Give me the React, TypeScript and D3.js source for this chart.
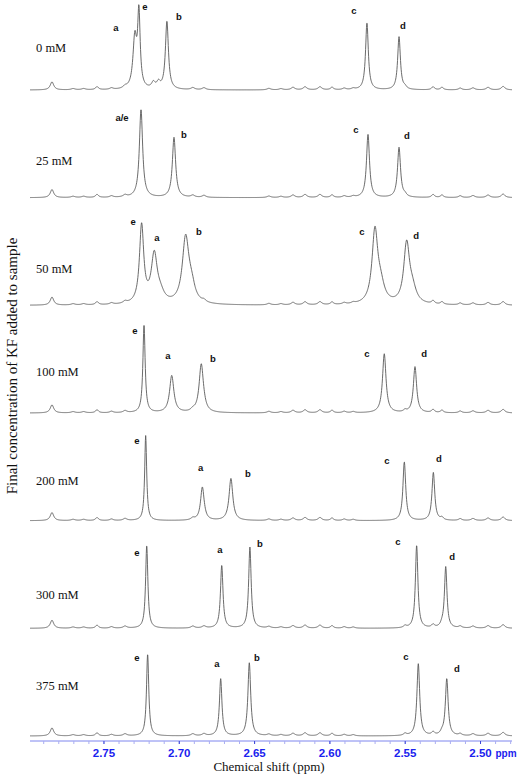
import React from "react";
import * as d3 from "d3";

// concentration of KF for each stacked spectrum (top to bottom)
const CONCENTRATIONS = ["0 mM", "25 mM", "50 mM", "100 mM", "200 mM", "300 mM", "375 mM"];

// main peaks per spectrum: [ppm, height, half-width (ppm)]
const PEAKS_0 = [
  [2.7268, 73, 0.001], [2.7295, 50, 0.0015], [2.7082, 68, 0.0012],
  [2.7172, 6, 0.0014], [2.7138, 6, 0.0014],
  [2.5754, 67, 0.0011], [2.5541, 53, 0.0011],
];
const PEAKS_25 = [
  [2.7254, 88, 0.0013], [2.7035, 60, 0.0013],
  [2.5747, 63, 0.0012], [2.5541, 50, 0.0012],
];
const PEAKS_50 = [
  [2.725, 78, 0.0017], [2.7166, 48, 0.0024], [2.7125, 8, 0.003],
  [2.6958, 64, 0.0026], [2.6922, 14, 0.003],
  [2.5701, 72, 0.0023], [2.5663, 16, 0.003],
  [2.549, 58, 0.0023], [2.5452, 13, 0.003],
];
const PEAKS_100 = [
  [2.7234, 88, 0.0009], [2.705, 37, 0.0017], [2.6854, 48, 0.0017],
  [2.5639, 59, 0.0014], [2.5435, 46, 0.0013],
];
const PEAKS_200 = [
  [2.7223, 85, 0.0008], [2.6847, 32, 0.0014], [2.6657, 42, 0.0015],
  [2.5506, 57, 0.0011], [2.5313, 45, 0.0011],
];
const PEAKS_300 = [
  [2.7216, 83, 0.0009], [2.6718, 63, 0.001], [2.6531, 81, 0.001],
  [2.5424, 83, 0.001], [2.5231, 61, 0.001],
];
const PEAKS_375 = [
  [2.721, 82, 0.0009], [2.6725, 57, 0.001], [2.6535, 73, 0.0011],
  [2.5413, 72, 0.0011], [2.5224, 57, 0.0011],
];
const PEAK_SETS = [PEAKS_0, PEAKS_25, PEAKS_50, PEAKS_100, PEAKS_200, PEAKS_300, PEAKS_375];

// small baseline features seen in every trace: [ppm, height, half-width]
const MINOR_PEAKS = [
  [2.7845, 8, 0.0014], [2.7546, 3, 0.0012], [2.736, 2, 0.0015],
  [2.7705, 1.2, 0.0016], [2.7635, 1.2, 0.0016], [2.745, 1.5, 0.0014],
  [2.691, 2, 0.0015], [2.6836, 2, 0.0015], [2.6405, 1.5, 0.0015],
  [2.6325, 1.2, 0.0015], [2.6245, 2.5, 0.0015],
  [2.6165, 3, 0.0015], [2.6066, 3, 0.0015], [2.5986, 2.5, 0.0012],
  [2.5905, 1.5, 0.0014], [2.5845, 1.2, 0.0014],
  [2.5501, 2, 0.0012], [2.5315, 3, 0.0012], [2.5256, 2.5, 0.0012],
  [2.5135, 1.8, 0.0013], [2.505, 2, 0.0015], [2.495, 2.5, 0.0015], [2.485, 3.5, 0.0015],
];

// peak letters: [text, ppm, level]
const LABELS_0 = [["a", 2.742, 62], ["e", 2.7228, 83], ["b", 2.7002, 73], ["c", 2.584, 79], ["d", 2.5515, 64]];
const LABELS_25 = [["a/e", 2.738, 80], ["b", 2.6969, 63], ["c", 2.5827, 68], ["d", 2.5488, 62]];
const LABELS_50 = [["e", 2.7307, 84], ["a", 2.7148, 68], ["b", 2.6869, 74], ["c", 2.5787, 74], ["d", 2.5428, 70]];
const LABELS_100 = [["e", 2.7294, 82], ["a", 2.7075, 57], ["b", 2.6776, 54], ["c", 2.5754, 59], ["d", 2.5375, 59]];
const LABELS_200 = [["e", 2.7281, 80], ["a", 2.6858, 53], ["b", 2.6544, 47], ["c", 2.5621, 60], ["d", 2.5276, 62]];
const LABELS_300 = [["e", 2.7281, 76], ["a", 2.673, 79], ["b", 2.6464, 85], ["c", 2.5548, 87], ["d", 2.5189, 72]];
const LABELS_375 = [["e", 2.7281, 78], ["a", 2.675, 72], ["b", 2.6484, 78], ["c", 2.5495, 79], ["d", 2.5156, 67]];
const LABEL_SETS = [LABELS_0, LABELS_25, LABELS_50, LABELS_100, LABELS_200, LABELS_300, LABELS_375];

// level of the concentration text beside each trace
const CONC_LABEL_LEVEL = [42, 37, 37, 41, 40, 34, 50];

const PPM_RANGE = [2.7991, 2.4791];
const TICKS = [2.75, 2.7, 2.65, 2.6, 2.55, 2.5];

const W = 520;
const H = 775;

const App: React.FC = () => {
  const x = d3.scaleLinear().domain(PPM_RANGE).range([30, 512]);
  const rows = d3.scalePoint<string>().domain(CONCENTRATIONS).range([90, 736]);
  const amp = d3.scaleLinear().domain([0, 100]).range([0, -100]);

  // sampling grid for the Lorentzian line shapes
  const grid = d3.range(PPM_RANGE[0], PPM_RANGE[1], -0.0002);

  const spectra = CONCENTRATIONS.map((c, i) => {
    const peaks = [...PEAK_SETS[i], ...MINOR_PEAKS];
    const pts = grid.map((p) => {
      let v = 0;
      for (const [c0, h, w] of peaks) {
        const d = (p - c0) / w;
        v += h / (1 + d * d);
      }
      return [p, v] as [number, number];
    });
    const base = rows(c)!;
    const line = d3
      .line<[number, number]>()
      .x((d) => x(d[0]))
      .y((d) => base + amp(d[1]));
    return { c, i, base, path: line(pts) };
  });

  const axisY = 741;
  const minor = d3.range(2.79, 2.475, -0.01);

  return (
    <svg
      width={W}
      height={H}
      style={{ position: "absolute", left: 0, top: 0, background: "#fff" }}
    >
      {spectra.map((s) => (
        <g key={s.c}>
          <path d={s.path ?? ""} fill="none" stroke="#5a5a5a" strokeWidth={0.9} />
          <text
            x={36}
            y={s.base + amp(CONC_LABEL_LEVEL[s.i])}
            dy="0.35em"
            fontFamily="'Liberation Serif', 'Times New Roman', serif"
            fontSize={12.5}
            fill="#111"
          >
            {s.c}
          </text>
          {LABEL_SETS[s.i].map(([t, p, lv]) => (
            <text
              key={t as string}
              x={x(p as number)}
              y={s.base + amp(lv as number)}
              dy="0.35em"
              textAnchor="middle"
              fontFamily="'Liberation Sans', Arial, sans-serif"
              fontWeight="bold"
              fontSize={9.5}
              fill="#111"
            >
              {t}
            </text>
          ))}
        </g>
      ))}

      {/* ppm axis */}
      <line x1={30} x2={512} y1={axisY} y2={axisY} stroke="#7f86ee" strokeWidth={1} />
      {minor.map((p) => (
        <line
          key={p.toFixed(2)}
          x1={x(p)}
          x2={x(p)}
          y1={axisY}
          y2={axisY + 3}
          stroke="#a9adf2"
          strokeWidth={1}
        />
      ))}
      {TICKS.map((t) => (
        <g key={t}>
          <line x1={x(t)} x2={x(t)} y1={axisY} y2={axisY + 3} stroke="#3a44d8" strokeWidth={1} />
          <text
            x={x(t)}
            y={757}
            textAnchor="middle"
            fontFamily="'Liberation Sans', Arial, sans-serif"
            fontWeight="bold"
            fontSize={11.5}
            fill="#1a22ee"
          >
            {d3.format(".2f")(t)}
          </text>
        </g>
      ))}
      <text
        x={x(2.5) + 15}
        y={757}
        fontFamily="'Liberation Sans', Arial, sans-serif"
        fontWeight="bold"
        fontSize={10}
        fill="#1a22ee"
      >
        ppm
      </text>
      <text
        x={269}
        y={771}
        textAnchor="middle"
        fontFamily="'Liberation Serif', 'Times New Roman', serif"
        fontSize={13}
        fill="#111"
      >
        Chemical shift (ppm)
      </text>
      <text
        transform={`translate(17,366) rotate(-90)`}
        textAnchor="middle"
        fontFamily="'Liberation Serif', 'Times New Roman', serif"
        fontSize={15}
        fill="#111"
      >
        Final concentration of KF added to sample
      </text>
    </svg>
  );
};

export default App;
